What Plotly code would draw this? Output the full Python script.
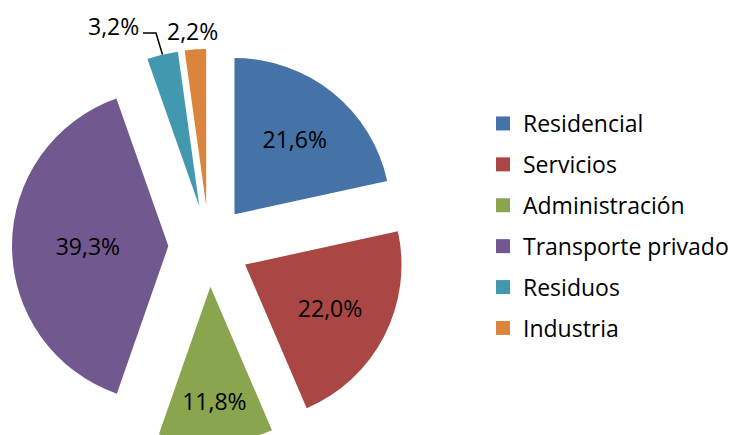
import math
import plotly.graph_objects as go

labels = ["Residencial", "Servicios", "Administración", "Transporte privado", "Residuos", "Industria"]
values = [21.6, 22.0, 11.8, 39.3, 3.2, 2.2]
colors = ["#4572A7", "#AA4643", "#89A54E", "#71588F", "#4198AF", "#DB843D"]
text_positions = ["inside", "inside", "inside", "inside", "none", "none"]

W, H = 737, 435
FONT = "Open Sans"
FS = 23

# pie geometry (pixels, figure coordinates)
cx, cy, half = 201, 238, 197
pull = 0.26
r = half / (1 + pull)


def fmt(v):
    return f"{v:.1f}%".replace(".", ",")


def outer_point(i):
    """Outer-edge midpoint of slice i (pulled), in figure pixels."""
    total = sum(values)
    start = sum(values[:i])
    theta = 2 * math.pi * (start + values[i] / 2) / total
    dx, dy = math.sin(theta), -math.cos(theta)
    d = r * (1 + pull)
    return cx + d * dx, cy + d * dy


def px(x):
    return x / W


def py(y):
    return 1 - y / H


fig = go.Figure()
fig.add_trace(go.Pie(
    labels=labels,
    values=values,
    sort=False,
    direction="clockwise",
    rotation=0,
    pull=[pull] * len(values),
    marker=dict(colors=colors, line=dict(width=0)),
    texttemplate="%{value:.1f}%",
    textposition=text_positions,
    insidetextorientation="horizontal",
    textfont=dict(family=FONT, size=FS, color="black"),
    showlegend=False,
    hoverinfo="label+percent",
    domain=dict(x=[(cx - half) / W, (cx + half) / W],
                y=[max(0, 1 - (cy + half) / H), 1 - (cy - half) / H]),
))

for lab, col in zip(labels, colors):
    fig.add_trace(go.Scatter(
        x=[None], y=[None], mode="markers", name=lab,
        legendgroup=lab,
        marker=dict(symbol="square", size=14, color=col),
    ))

# outside labels for the two small slices
i_res = labels.index("Residuos")
i_ind = labels.index("Industria")
pr_x, pr_y = outer_point(i_res)
pi_x, pi_y = outer_point(i_ind)

annotations = [
    dict(text=fmt(values[i_res]), x=px(pr_x - 49), y=py(pr_y - 29),
         xref="paper", yref="paper", xanchor="center", yanchor="middle",
         showarrow=False, font=dict(family=FONT, size=FS, color="black")),
    dict(text=fmt(values[i_ind]), x=px(pi_x - 3), y=py(pi_y - 18),
         xref="paper", yref="paper", xanchor="center", yanchor="middle",
         showarrow=False, font=dict(family=FONT, size=FS, color="black")),
]

leader = "M {:.4f},{:.4f} L {:.4f},{:.4f} L {:.4f},{:.4f}".format(
    px(pr_x), py(pr_y),
    px(pr_x - 6.5), py(pr_y - 21.5),
    px(pr_x - 19.5), py(pr_y - 21.5),
)
shapes = [dict(type="path", xref="paper", yref="paper", path=leader,
               line=dict(color="black", width=1.5))]

fig.update_layout(
    width=W, height=H,
    margin=dict(l=0, r=0, t=0, b=0, autoexpand=False),
    paper_bgcolor="white", plot_bgcolor="white",
    separators=",.",
    font=dict(family=FONT, size=FS, color="black"),
    xaxis=dict(visible=False), yaxis=dict(visible=False),
    legend=dict(x=475 / W, y=1 - 94 / H, xanchor="left", yanchor="top",
                tracegroupgap=8, itemsizing="trace",
                font=dict(family=FONT, size=FS, color="black")),
    annotations=annotations,
    shapes=shapes,
)

fig.write_html("out.html")
